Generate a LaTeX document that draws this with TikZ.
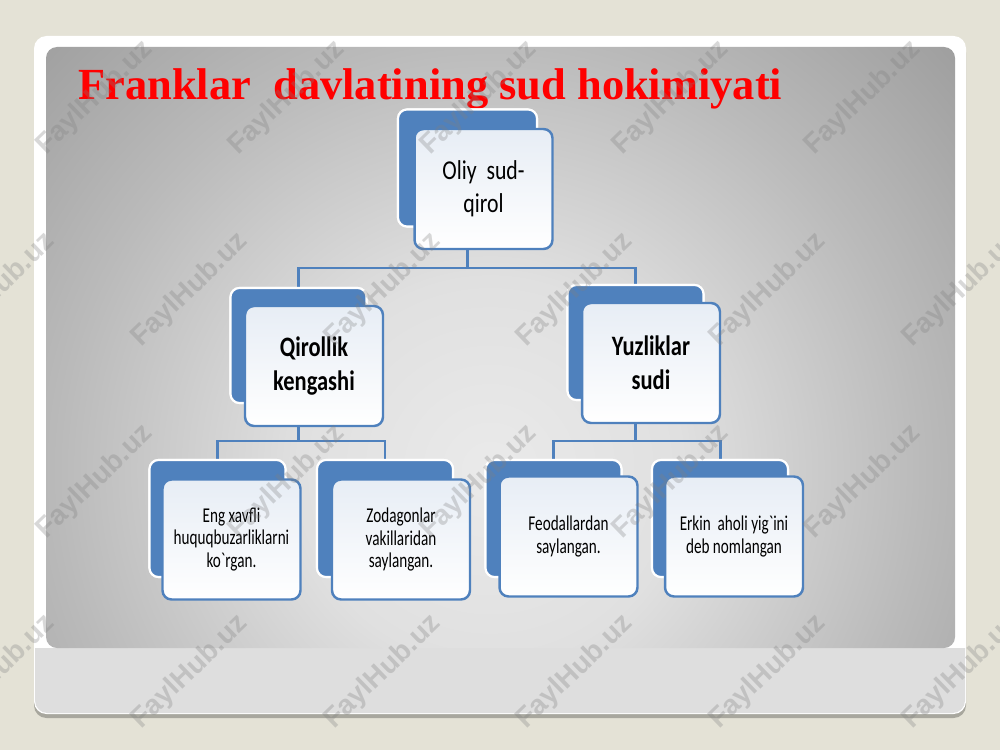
\documentclass[tikz,border=0pt]{standalone}
\usepackage{fontspec}
\setmainfont{Liberation Serif}
\newfontfamily\boxfont[FakeStretch=0.8]{Carlito}
\newfontfamily\smallboxfont[FakeStretch=0.72]{Carlito}
\newfontfamily\markfont{Liberation Sans}
\usetikzlibrary{positioning}
\definecolor{officeblue}{RGB}{79,129,189}
\definecolor{paleblue}{RGB}{231,237,245}
\definecolor{slidebg}{RGB}{228,226,214}
\definecolor{bandgray}{RGB}{222,222,222}
\definecolor{shadowgray}{RGB}{168,167,158}
\definecolor{glowA}{RGB}{234,234,234}
\definecolor{glowB}{RGB}{224,224,224}
\definecolor{glowC}{RGB}{186,186,186}
\definecolor{glowD}{RGB}{156,156,156}
\pgfdeclareradialshading{panelglow}{\pgfpoint{0bp}{0bp}}{color(0bp)=(glowA); color(8bp)=(glowB); color(18bp)=(glowC); color(27bp)=(glowD); color(50bp)=(glowD)}
\tikzset{
  backbox/.style={draw=white, line width=1.2pt, fill=officeblue, rounded corners=0.18cm, inner sep=0pt, minimum width=2.72cm, minimum height=2.34cm},
  frontbox/.style={draw=officeblue, line width=1.4pt, top color=paleblue, bottom color=white, rounded corners=0.18cm, inner sep=0pt, align=center, minimum width=2.76cm, minimum height=2.4cm},
  link/.style={draw=officeblue, line width=1.7pt},
  watermark/.style={text=gray, text opacity=0.3, rotate=44, font=\markfont\bfseries\fontsize{16}{16}\selectfont}
}
\begin{document}
\begin{tikzpicture}[x=0.02cm, y=-0.02cm]
\useasboundingbox (0,0) rectangle (1000,750);
\fill[slidebg] (0,0) rectangle (1000,750);
\fill[shadowgray, rounded corners=0.25cm] (34,40) rectangle (966,718);
\fill[white, rounded corners=0.25cm] (34,36) rectangle (966,714);
\begin{scope}
\clip (0,648) rectangle (1000,750);
\fill[bandgray, rounded corners=0.25cm] (35,36) rectangle (965,713);
\end{scope}
\begin{scope}
\clip[rounded corners=0.22cm] (46,47) rectangle (955,648);
\shade[shading=panelglow] (-110,-130) rectangle (1090,1070);
\end{scope}

\node[anchor=base west, inner sep=0pt, text=red, font=\bfseries\fontsize{25.3}{30}\selectfont] (title) at (78,99) {Franklar\ \ davlatining sud hokimiyati};

\coordinate (bus1) at (0,268);
\coordinate (bus2) at (0,441);

\node[backbox, minimum width=2.78cm] (oliyB) at (467.5,168) {};
\node[backbox, minimum height=2.3cm] (qirB) at (298.5,345.5) {};
\node[backbox, minimum height=2.3cm] (yuzB) at (635.5,342.5) {};
\node[backbox] (engB) at (217.5,518.5) {};
\node[backbox] (zodB) at (385,518.5) {};
\node[backbox] (feoB) at (553.5,518.5) {};
\node[backbox] (erkB) at (720,518.5) {};

\draw[link] (oliyB.south) -- (oliyB.south |- bus1) -| (qirB.north);
\draw[link] (oliyB.south |- bus1) -| (yuzB.north);
\draw[link] (qirB.south) -- (qirB.south |- bus2) -| (engB.north);
\draw[link] (qirB.south |- bus2) -| (zodB.north);
\draw[link] (yuzB.south) -- (yuzB.south |- bus2) -| (feoB.north);
\draw[link] (yuzB.south |- bus2) -| (erkB.north);

\node[backbox, minimum width=2.78cm] at (oliyB) {};
\node[backbox, minimum height=2.3cm] at (qirB) {};
\node[backbox, minimum height=2.3cm] at (yuzB) {};
\node[backbox] at (engB) {};
\node[backbox] at (zodB) {};
\node[backbox] at (feoB) {};
\node[backbox] at (erkB) {};

\node[frontbox, font=\boxfont\fontsize{15.5}{19}\selectfont] (oliy) at ([shift={(16,21)}]oliyB.center) {Oliy\ \ sud-\\qirol};
\node[frontbox, font=\boxfont\bfseries\fontsize{16}{19.3}\selectfont] (qir) at ([shift={(15.5,20.5)}]qirB.center) {Qirollik\\kengashi};
\node[frontbox, font=\boxfont\bfseries\fontsize{16}{19.3}\selectfont] (yuz) at ([shift={(15.5,20.5)}]yuzB.center) {Yuzliklar\\sudi};
\node[frontbox, font=\smallboxfont\fontsize{12}{12.8}\selectfont] (eng) at ([shift={(14,21)}]engB.center) {Eng xavfli\\huquqbuzarliklarni\\ko`rgan.};
\node[frontbox, font=\smallboxfont\fontsize{12}{12.8}\selectfont] (zod) at ([shift={(16,21)}]zodB.center) {Zodagonlar\\vakillaridan\\saylangan.};
\node[frontbox, font=\smallboxfont\fontsize{12}{12.8}\selectfont] (feo) at ([shift={(15,18)}]feoB.center) {Feodallardan\\saylangan.};
\node[frontbox, font=\smallboxfont\fontsize{12}{12.8}\selectfont] (erk) at ([shift={(14,18)}]erkB.center) {Erkin\ \ aholi yig`ini\\deb nomlangan};

\foreach \y in {98,482}
  \foreach \x in {95,287,479,671,863}
    \node[watermark] (wm-\x-\y) at (\x,\y) {FaylHub.uz};
\foreach \y in {290,672}
  \foreach \x in {-3,190,383,575,768,961}
    \node[watermark] (wm-\x-\y) at (\x,\y) {FaylHub.uz};
\end{tikzpicture}
\end{document}
